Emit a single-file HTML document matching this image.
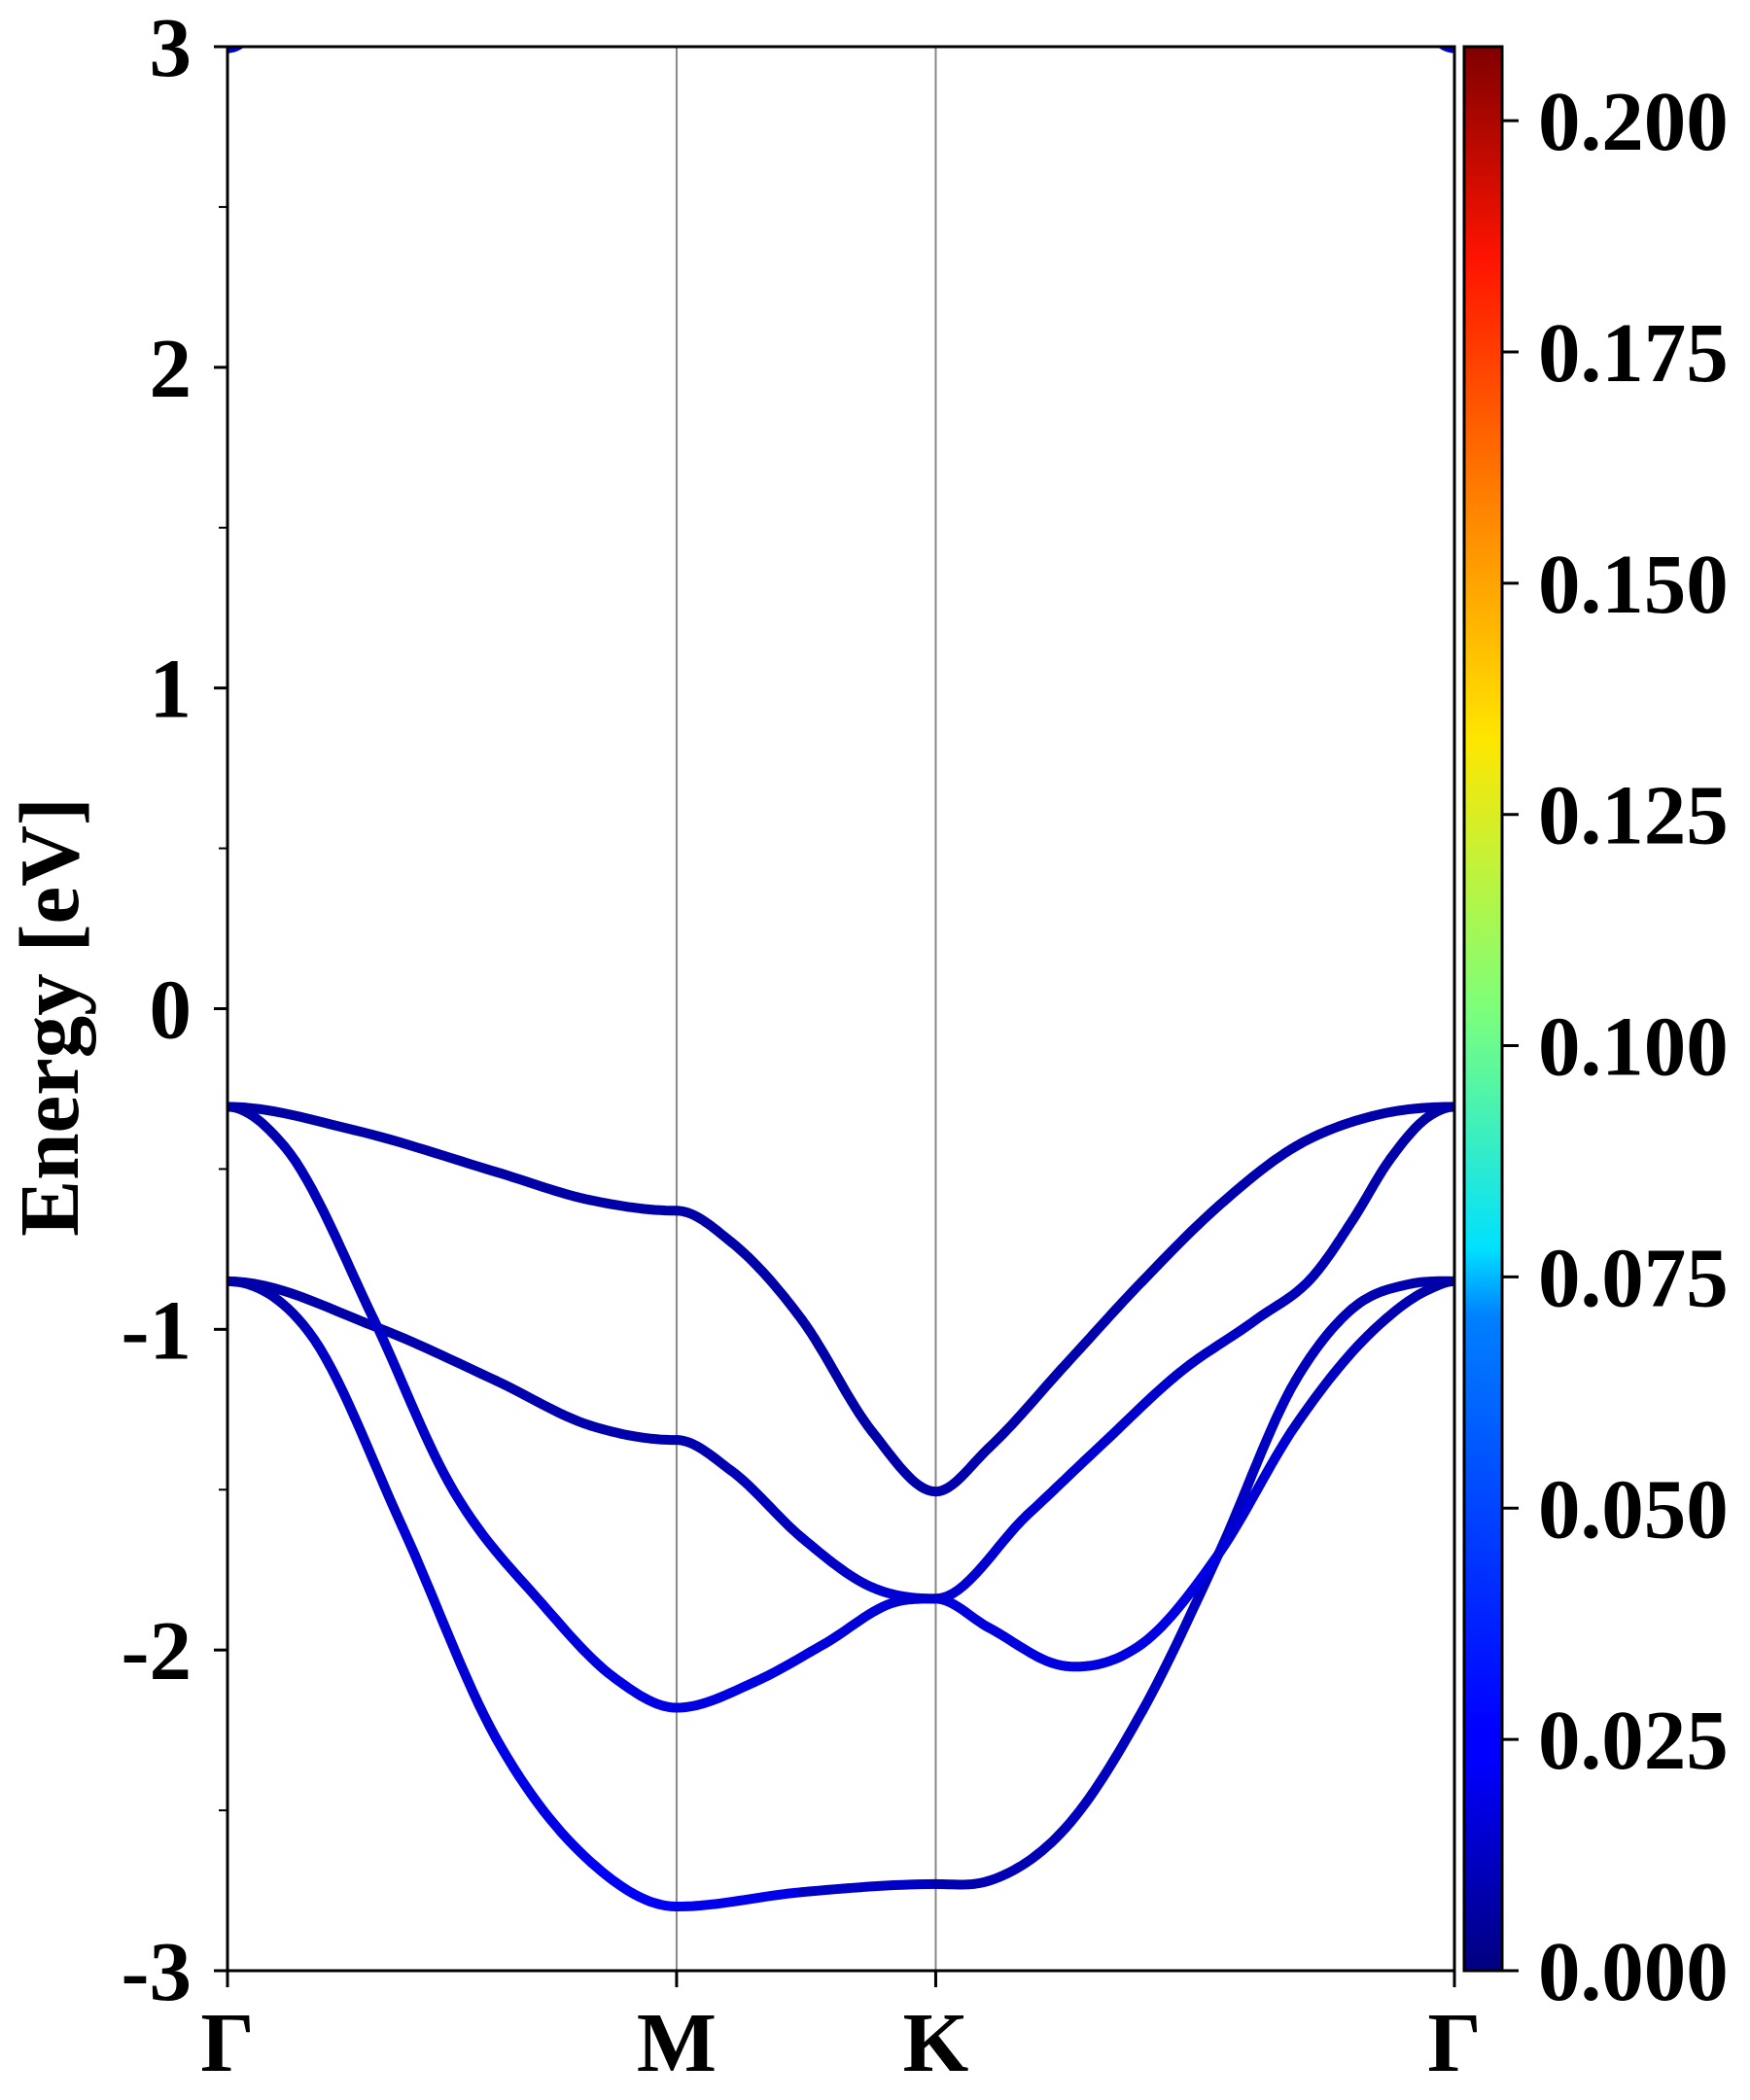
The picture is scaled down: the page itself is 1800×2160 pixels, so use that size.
<!DOCTYPE html>
<html><head><meta charset="utf-8"><style>
html,body{margin:0;padding:0;background:#fff;}
svg{display:block;font-family:"Liberation Serif",serif;font-weight:bold;}
</style></head><body>
<svg id="chart" width="1800" height="2160" viewBox="0 0 1800 2160" xmlns="http://www.w3.org/2000/svg">
<defs>
<clipPath id="plotclip"><rect x="234" y="48" width="1262" height="1979"/></clipPath>
<linearGradient id="jetgrad" x1="0" y1="1" x2="0" y2="0">
<stop offset="0" stop-color="#00007f"/><stop offset="0.11" stop-color="#0000ff"/>
<stop offset="0.125" stop-color="#0000ff"/><stop offset="0.34" stop-color="#0080ff"/>
<stop offset="0.375" stop-color="#00e0ff"/><stop offset="0.5" stop-color="#7dff7a"/>
<stop offset="0.64" stop-color="#ffe600"/><stop offset="0.75" stop-color="#ff8c00"/>
<stop offset="0.89" stop-color="#ff1300"/><stop offset="1" stop-color="#7f0000"/>
</linearGradient>
</defs>
<g id="grid"></g>
<g id="bands" clip-path="url(#plotclip)"></g>
<g id="axes"></g>
<text x="0" y="0" font-size="87" text-anchor="middle" transform="translate(80,1046) rotate(-90)">Energy [eV]</text>
</svg>
<script>
// ---- data ----
const kLabels = ["Γ","M","K","Γ"];
const kTicks = [0, 1, 1.577, 2.732];
const yTicks = [-3,-2,-1,0,1,2,3];
const yMinorTicks = [-2.5,-1.5,-0.5,0.5,1.5,2.5];
const cbTicks = [0,0.025,0.05,0.075,0.1,0.125,0.15,0.175,0.2];
const cbMax = 0.208;
const bandAk = [0,0.283,0.598,0.808,1.0,1.121,1.279,1.436,1.577,1.695,1.866,2.037,2.207,2.378,2.549,2.732];
const bandAE = [-0.306,-0.379,-0.509,-0.597,-0.63,-0.727,-0.97,-1.32,-1.506,-1.37,-1.11,-0.85,-0.615,-0.43,-0.335,-0.306];
const bandAW = [0.008,0.008,0.008,0.008,0.008,0.008,0.008,0.008,0.009,0.009,0.009,0.009,0.009,0.009,0.009,0.008];
const bandBk = [0,0.127,0.326,0.492,0.702,0.86,1.0,1.173,1.33,1.488,1.577,1.78,1.95,2.12,2.29,2.42,2.505,2.59,2.676,2.732];
const bandBE = [-0.306,-0.43,-0.97,-1.476,-1.858,-2.085,-2.18,-2.10,-1.98,-1.85,-1.84,-1.58,-1.355,-1.135,-0.97,-0.83,-0.66,-0.467,-0.335,-0.306];
const bandBW = [0.008,0.01,0.013,0.016,0.018,0.02,0.02,0.02,0.019,0.017,0.016,0.017,0.016,0.015,0.013,0.011,0.01,0.009,0.008,0.008];
const bandCk = [0,0.326,0.598,0.808,1.0,1.121,1.279,1.436,1.577,1.695,1.866,2.037,2.207,2.378,2.549,2.676,2.732];
const bandCE = [-0.85,-0.99,-1.16,-1.30,-1.345,-1.44,-1.65,-1.805,-1.84,-1.93,-2.05,-1.98,-1.70,-1.30,-1.006,-0.875,-0.85];
const bandCW = [0.008,0.009,0.009,0.009,0.009,0.01,0.013,0.016,0.018,0.019,0.02,0.02,0.02,0.015,0.011,0.009,0.008];
const bandDk = [0,0.18,0.389,0.598,0.808,1.0,1.279,1.577,1.695,1.866,2.037,2.207,2.378,2.505,2.635,2.732];
const bandDE = [-0.85,-1.006,-1.615,-2.275,-2.66,-2.80,-2.755,-2.73,-2.72,-2.555,-2.19,-1.70,-1.16,-0.935,-0.858,-0.85];
const bandDW = [0.009,0.012,0.016,0.019,0.022,0.026,0.018,0.01,0.01,0.012,0.013,0.014,0.013,0.011,0.009,0.009];
const bandEk = [0,0.06,0.12];
const bandEE = [2.995,3.05,3.2];
const bandEW = [0.015,0.015,0.015];
const bandFk = [2.612,2.672,2.732];
const bandFE = [3.2,3.05,2.995];
const bandFW = [0.015,0.015,0.015];

// ---- scales ----
const X0=234, X1=1496, Y0=48, Y1=2027, KMAX=2.732, EMIN=-3, EMAX=3;
const xs = k => X0 + (k/KMAX)*(X1-X0);
const ys = e => Y1 - (e-EMIN)/(EMAX-EMIN)*(Y1-Y0);
const CB0=1506, CB1=1545;
const cbY = v => Y1 - (v/cbMax)*(Y1-Y0);
const NS="http://www.w3.org/2000/svg";
function mk(tag, attrs, parent){const e=document.createElementNS(NS,tag);for(const a in attrs)e.setAttribute(a,attrs[a]);parent.appendChild(e);return e;}
function jet(t){t=Math.max(0,Math.min(1,t));
 const r=Math.max(0,Math.min(1,1.5-Math.abs(4*t-3))),g=Math.max(0,Math.min(1,1.5-Math.abs(4*t-2))),b=Math.max(0,Math.min(1,1.5-Math.abs(4*t-1)));
 return `rgb(${Math.round(r*255)},${Math.round(g*255)},${Math.round(b*255)})`;}
const grid=document.getElementById('grid'), bandsG=document.getElementById('bands'), axes=document.getElementById('axes');

[kTicks[1],kTicks[2]].forEach((k,i)=>{
 const l=mk('line',{x1:xs(k),x2:xs(k),y1:Y0,y2:Y1,stroke:'#888',"stroke-width":2},grid);
 
 
});

const isSym = k => kTicks.some(t=>Math.abs(t-k)<1e-6);
function slopes(ks,es){
 const n=ks.length, m=[];
 for(let i=0;i<n;i++){
  if(isSym(ks[i])){m.push(0);continue;}
  if(i===0){m.push((es[1]-es[0])/(ks[1]-ks[0]));continue;}
  if(i===n-1){m.push((es[n-1]-es[n-2])/(ks[n-1]-ks[n-2]));continue;}
  const h0=ks[i]-ks[i-1], h1=ks[i+1]-ks[i];
  const d0=(es[i]-es[i-1])/h0, d1=(es[i+1]-es[i])/h1;
  m.push((d0*h1+d1*h0)/(h0+h1));
 }
 return m;
}
function drawBand(ks,es,ws,name){
 const g=mk('g',{},bandsG);
 
 
 const n=ks.length, m=slopes(ks,es);
 for(let i=0;i<n-1;i++){
  const h=ks[i+1]-ks[i], pts=[];
  for(let s=0;s<=16;s++){
   const t=s/16, t2=t*t, t3=t2*t;
   const e=(2*t3-3*t2+1)*es[i]+(t3-2*t2+t)*h*m[i]+(-2*t3+3*t2)*es[i+1]+(t3-t2)*h*m[i+1];
   pts.push(xs(ks[i]+h*t).toFixed(1)+','+ys(e).toFixed(1));
  }
  const w=(ws[i]+ws[i+1])/2;
  mk('polyline',{points:pts.join(' '),fill:'none',stroke:jet(w/cbMax),"stroke-width":10,"stroke-linecap":"round","stroke-linejoin":"round"},g);
 }
}
drawBand(bandDk,bandDE,bandDW,'band-1');
drawBand(bandCk,bandCE,bandCW,'band-2');
drawBand(bandBk,bandBE,bandBW,'band-3');
drawBand(bandAk,bandAE,bandAW,'band-4');
drawBand(bandEk,bandEE,bandEW,'conduction-band-left');
drawBand(bandFk,bandFE,bandFW,'conduction-band-right');

const fr=mk('rect',{x:X0,y:Y0,width:X1-X0,height:Y1-Y0,fill:'none',stroke:'#000',"stroke-width":3},axes);



yTicks.forEach(v=>{
 const t=mk('line',{x1:X0-14,x2:X0,y1:ys(v),y2:ys(v),stroke:'#000',"stroke-width":3},axes);
 
 
 const tx=mk('text',{x:X0-37,y:ys(v)+30,"font-size":87,"text-anchor":"end"},axes);
 tx.textContent=String(v);
 
 
});
yMinorTicks.forEach(v=>{
 const t=mk('line',{x1:X0-9,x2:X0,y1:ys(v),y2:ys(v),stroke:'#000',"stroke-width":2},axes);
 
 
});
kTicks.forEach((k,i)=>{
 const t=mk('line',{x1:xs(k),x2:xs(k),y1:Y1,y2:Y1+17,stroke:'#000',"stroke-width":3},axes);
 
 
 const tx=mk('text',{x:xs(k),y:Y1+103,"font-size":87,"text-anchor":"middle"},axes);
 tx.textContent=kLabels[i];
 
 
});

const cb=mk('rect',{x:CB0,y:Y0,width:CB1-CB0,height:Y1-Y0,fill:'url(#jetgrad)',stroke:'#000',"stroke-width":3},axes);


cbTicks.forEach(v=>{
 const t=mk('line',{x1:CB1,x2:CB1+17,y1:cbY(v),y2:cbY(v),stroke:'#000',"stroke-width":3},axes);
 
 
 const tx=mk('text',{x:1582,y:cbY(v)+30,"font-size":87},axes);
 tx.textContent=v.toFixed(3);
 
 
});
</script>
</body></html>
